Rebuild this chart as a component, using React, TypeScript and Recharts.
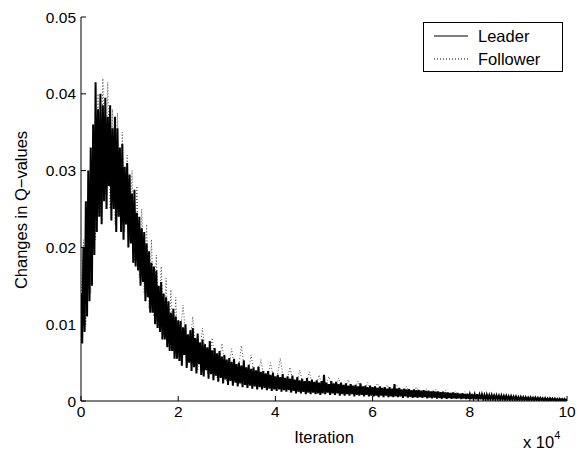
import { LineChart, Line, XAxis, YAxis, Label } from 'recharts'

const xTicks = [0, 2, 4, 6, 8, 10]
const yTicks = [0, 0.01, 0.02, 0.03, 0.04, 0.05]

// Leader: every 0.025 from 0 to 10, split in three stretches
const leaderEarly = [
  14, 7.5, 20, 9, 26, 11, 30, 13, 33, 15,
  36, 19, 41.5, 22, 38, 24, 40, 23, 38.5, 26,
  39.5, 25, 37, 28, 38.5, 23.5, 35.5, 25, 37, 22,
  35.5, 24, 33, 22, 33.5, 21, 30.5, 23, 31, 20,
  29.5, 20.5, 27, 18, 27.5, 17.5, 24.5, 17, 24, 15,
  22.5, 15.5, 22, 13, 20.5, 13.5, 19.5, 11.5, 18, 11.5,
  17.5, 10, 17, 9.5, 15, 9, 15.5, 8, 14, 8,
  13.5, 7, 13, 6.5, 11.5, 6.5, 12, 5.5, 11, 5.5,
  10.5,
]
const leaderMid = [
  5.2, 10.4, 4.6, 9.6, 6.0, 10.0, 4.3, 8.7, 5.0, 9.2,
  3.9, 9.5, 4.4, 8.2, 3.6, 8.8, 4.8, 7.6, 3.4, 8.0,
  3.2, 7.4, 4.0, 7.0, 2.9, 7.8, 3.5, 6.6, 2.7, 6.9,
  3.3, 6.2, 2.5, 6.5, 3.0, 5.8, 2.3, 6.0, 2.8, 5.4,
  2.1, 5.6, 2.6, 5.1, 2.0, 5.5, 2.4, 4.8, 1.9, 5.0,
  2.3, 4.6, 1.8, 5.3, 2.1, 4.4, 1.7, 4.7, 2.0, 4.2,
  1.6, 4.4, 1.9, 4.0, 1.5, 4.5, 1.8, 3.8, 1.5, 3.9,
  1.7, 3.6, 1.4, 3.9, 1.6, 3.4, 1.3, 3.7, 1.5, 3.2,
  1.3, 3.4, 1.5, 3.1, 1.2, 3.5, 1.4, 3.0, 1.2, 3.2,
  1.4, 2.9, 1.1, 3.3, 1.3, 2.8, 1.0, 3.1, 1.2, 2.7,
  1.0, 2.9, 1.2, 2.6, 0.9, 3.0, 1.1, 2.6, 0.9, 2.8,
  1.1, 2.5, 0.9, 2.7, 1.0, 2.4, 0.8, 2.6, 1.0, 3.4,
]
const leaderLate = [
  0.9, 2.4, 1.1, 2.2, 0.8, 2.6, 1.0, 2.3, 0.8, 2.5,
  1.0, 2.2, 0.7, 2.4, 0.9, 2.1, 0.7, 2.3, 0.9, 2.0,
  0.7, 2.2, 0.9, 2.0, 0.6, 2.1, 0.8, 1.9, 0.7, 2.3,
  0.8, 1.9, 0.6, 2.0, 0.8, 1.8, 0.6, 2.0, 0.7, 1.8,
  0.6, 1.9, 0.7, 1.7, 0.5, 1.9, 0.7, 1.7, 0.5, 1.8,
  0.7, 1.6, 0.5, 1.8, 0.6, 1.6, 0.5, 2.2, 0.6, 1.6,
  0.5, 1.7, 0.6, 1.5, 0.4, 1.6, 0.6, 1.5, 0.45, 1.55,
  0.55, 1.4, 0.4, 1.5, 0.5, 1.4, 0.4, 1.45, 0.5, 1.35,
  0.4, 1.4, 0.5, 1.3, 0.35, 1.35, 0.45, 1.25, 0.35, 1.3,
  0.45, 1.2, 0.3, 1.25, 0.4, 1.15, 0.3, 1.2, 0.4, 1.1,
  0.3, 1.1, 0.38, 1.05, 0.28, 1.1, 0.35, 1.0, 0.28, 1.05,
  0.35, 0.95, 0.25, 1.0, 0.32, 0.92, 0.25, 0.95, 0.3, 0.88,
  0.25, 0.9, 0.3, 0.85, 0.22, 0.88, 0.28, 0.82, 0.22, 0.85,
  0.26, 0.78, 0.2, 0.8, 0.25, 0.75, 0.2, 0.77, 0.24, 0.7,
  0.18, 0.72, 0.22, 0.68, 0.17, 0.7, 0.2, 0.64, 0.16, 0.66,
  0.2, 0.6, 0.15, 0.62, 0.18, 0.56, 0.14, 0.58, 0.17, 0.52,
  0.13, 0.54, 0.16, 0.5, 0.12, 0.5, 0.15, 0.46, 0.11, 0.47,
  0.14, 0.43, 0.1, 0.44, 0.12, 0.4, 0.09, 0.41, 0.11, 0.37,
  0.08, 0.38, 0.1, 0.34, 0.07, 0.35, 0.09, 0.31, 0.07, 0.32,
  0.08, 0.28, 0.06, 0.29, 0.07, 0.25, 0.05, 0.26, 0.06, 0.22,
]

// Follower: every 0.05 from 0 to 2, then every 0.1 from 2.1 to 10
const followerEarly = [
  12, 21, 10, 30, 14, 36, 21, 40, 24, 42,
  27, 41.5, 25, 38, 23, 37.5, 24, 35, 22, 32,
  21, 30, 18, 28, 16, 25, 14, 23, 12, 21,
  11, 19, 9.5, 17.5, 8.5, 16, 7.5, 14.5, 6.5, 13.5,
  6,
]
const followerLate = [
  12.5, 5, 11, 4, 9.5, 3.5, 8.2, 3, 7.5, 2.6,
  6.8, 2.3, 7.2, 2.0, 6.0, 1.9, 5.4, 1.7, 5.0, 1.6,
  5.6, 1.5, 4.4, 1.4, 4.0, 1.3, 3.8, 1.2, 3.4, 1.1,
  3.2, 1.1, 3.0, 1.0, 2.8, 0.9, 2.6, 0.9, 2.4, 0.8,
  2.3, 0.8, 2.1, 0.7, 2.0, 0.7, 1.9, 0.6, 1.8, 0.6,
  1.6, 0.5, 1.5, 0.5, 1.4, 0.45, 1.3, 0.4, 1.2, 0.4,
  1.1, 0.35, 1.0, 0.3, 0.9, 0.3, 0.8, 0.25, 0.7, 0.2,
  0.6, 0.2, 0.5, 0.15, 0.45, 0.12, 0.4, 0.1, 0.35, 0.1,
]

// each segment: [values, first iteration, spacing]
const toSeries = (segments: [number[], number, number][]) =>
  segments.flatMap(([vals, start, step]) =>
    vals.map((v, i) => ({ iter: start + i * step, q: v / 1000 })))

const leaderData = toSeries([
  [leaderEarly, 0, 0.025],
  [leaderMid, 2.025, 0.025],
  [leaderLate, 5.025, 0.025],
])
const followerData = toSeries([
  [followerEarly, 0, 0.05],
  [followerLate, 2.1, 0.1],
])

const FONT = '"Liberation Sans", Arial, Helvetica, sans-serif'
const TICK_FS = 15.5
const LABEL_FS = 16.5
const GAP = 5
const TICK_LEN = 5

const YTick = ({ x, y, payload }: any) => (
  <g>
    <line x1={x + GAP} x2={x + GAP + TICK_LEN} y1={y} y2={y} stroke="#000" />
    <text x={x} y={y} dy="0.36em" textAnchor="end" fontSize={TICK_FS} fontFamily={FONT} fill="#000">
      {String(payload.value)}
    </text>
  </g>
)

const XTick = ({ x, y, payload }: any) => (
  <g>
    <line x1={x} x2={x} y1={y - GAP} y2={y - GAP - TICK_LEN} stroke="#000" />
    <text x={x} y={y} dy="0.71em" textAnchor="middle" fontSize={TICK_FS} fontFamily={FONT} fill="#000">
      {String(payload.value)}
    </text>
  </g>
)

export default function App() {
  return (
    <div style={{ position: 'absolute', left: 0, top: 0, width: 585, height: 456, background: '#fff' }}>
      <LineChart width={585} height={456} margin={{ top: 17, right: 18, bottom: 0, left: 0 }}>
        <XAxis dataKey="iter" type="number" domain={[0, 10]} ticks={xTicks} allowDataOverflow
          height={55} tickSize={0} tickMargin={GAP} tick={<XTick />} axisLine={{ stroke: '#000' }}>
          <Label content={() => (
            <text x={324} y={443} textAnchor="middle" fontSize={LABEL_FS} fontFamily={FONT} fill="#000">Iteration</text>
          )} />
        </XAxis>
        <YAxis dataKey="q" type="number" domain={[0, 0.05]} ticks={yTicks} allowDataOverflow
          width={81} tickSize={0} tickMargin={GAP} tick={<YTick />} axisLine={{ stroke: '#000' }}>
          <Label content={() => (
            <text x={27} y={210} transform="rotate(-90 27 210)" textAnchor="middle"
              fontSize={LABEL_FS} fontFamily={FONT} fill="#000">Changes in Q−values</text>
          )} />
        </YAxis>
        <Line data={followerData} dataKey="q" type="linear" stroke="#555" strokeWidth={1}
          strokeDasharray="1 2" dot={false} isAnimationActive={false} />
        <Line data={leaderData} dataKey="q" type="linear" stroke="#000" strokeWidth={2}
          dot={false} isAnimationActive={false} />
      </LineChart>

      {/* legend box, MATLAB style */}
      <div style={{
        position: 'absolute', left: 423, top: 22, width: 138, height: 48,
        border: '1px solid #000', background: '#fff', fontFamily: FONT, fontSize: LABEL_FS,
      }}>
        {[
          { name: 'Leader', dash: undefined },
          { name: 'Follower', dash: '1 2' },
        ].map((s, i) => (
          <div key={s.name} style={{ position: 'absolute', left: 0, top: 2 + i * 23, height: 22, display: 'flex', alignItems: 'center' }}>
            <svg width={54} height={22}>
              <line x1={10} x2={44} y1={11} y2={11} stroke="#000" strokeWidth={1} strokeDasharray={s.dash} />
            </svg>
            <span style={{ lineHeight: '22px' }}>{s.name}</span>
          </div>
        ))}
      </div>

      {/* axis exponent */}
      <div style={{ position: 'absolute', left: 523, top: 431, fontFamily: FONT, fontSize: LABEL_FS, whiteSpace: 'nowrap' }}>
        x 10<sup style={{ fontSize: 11, position: 'relative', top: -2 }}>4</sup>
      </div>
    </div>
  )
}
